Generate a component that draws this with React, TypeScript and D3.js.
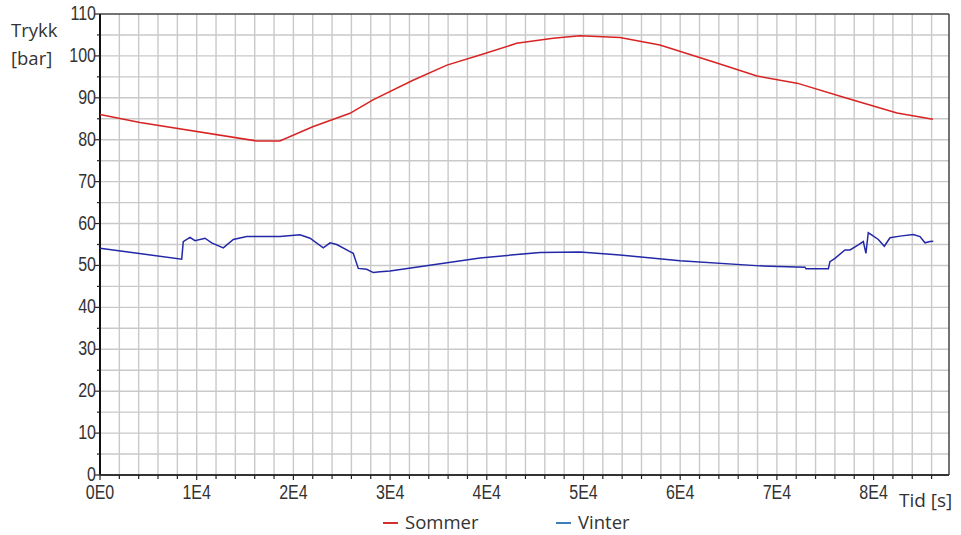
import React, { useEffect, useRef } from "react";
import * as d3 from "d3";

const sommerTime = [0, 4136, 16200, 18600, 22000, 25850, 28230, 32370, 35880, 39300, 43090, 46850, 49640, 53770, 57900, 63390, 67940, 72080, 77250, 82420, 86140];
const sommerValue = [86.0, 84.1, 79.7, 79.7, 83.1, 86.3, 89.5, 94.2, 97.8, 100.2, 103.0, 104.2, 104.8, 104.4, 102.6, 98.6, 95.2, 93.5, 89.9, 86.4, 84.9];

const vinterTime = [0, 8450, 8610, 8890, 9310, 9820, 10860, 11550, 12750, 13790, 15170, 18610, 20680, 21720, 23090, 23790, 24480, 25850, 26190, 26710, 27580, 28260, 28960, 29990, 39300, 45500, 49640, 53770, 59980, 68250, 72900, 73010, 75320, 75490, 76010, 77040, 77560, 78420, 78940, 79210, 79450, 79800, 80490, 81110, 81700, 82730, 84100, 84800, 85320, 85830, 86170];
const vinterValue = [54.1, 51.5, 55.7, 56.1, 56.7, 55.9, 56.5, 55.4, 54.2, 56.2, 56.9, 56.9, 57.3, 56.5, 54.2, 55.4, 55.0, 53.3, 52.9, 49.3, 49.1, 48.3, 48.5, 48.7, 51.8, 53.1, 53.2, 52.5, 51.1, 49.9, 49.6, 49.2, 49.2, 50.9, 51.7, 53.7, 53.7, 54.9, 55.7, 52.9, 57.8, 57.3, 56.2, 54.6, 56.6, 57.0, 57.4, 56.9, 55.4, 55.7, 55.8];

const xTickValues = [0, 10000, 20000, 30000, 40000, 50000, 60000, 70000, 80000];
const xTickLabels = ["0E0", "1E4", "2E4", "3E4", "4E4", "5E4", "6E4", "7E4", "8E4"];
const yTickValues = [0, 10, 20, 30, 40, 50, 60, 70, 80, 90, 100, 110];
const seriesNames = ["Sommer", "Vinter"];

const W = 961, H = 535;
const M = { left: 100, right: 949, top: 14, bottom: 475 };

export default function App() {
  const ref = useRef<SVGSVGElement>(null);
  useEffect(() => {
    const svg = d3.select(ref.current);
    svg.selectAll("*").remove();
    const x = d3.scaleLinear().domain([0, 87800]).range([M.left, M.right]);
    const y = d3.scaleLinear().domain([0, 110]).range([M.bottom, M.top]);

    const g = svg.append("g");
    // grid
    const xGrid = d3.range(2000, 87000, 2000);
    g.selectAll(".vg").data(xGrid).enter().append("line")
      .attr("x1", d => x(d)).attr("x2", d => x(d)).attr("y1", M.top).attr("y2", M.bottom)
      .attr("stroke", "#c9c9c9").attr("stroke-width", 1.4);
    const yGrid = d3.range(5, 110, 5);
    g.selectAll(".hg").data(yGrid).enter().append("line")
      .attr("x1", M.left).attr("x2", M.right).attr("y1", d => y(d)).attr("y2", d => y(d))
      .attr("stroke", "#c9c9c9").attr("stroke-width", 1.4);

    // border top/right
    g.append("line").attr("x1", M.left).attr("x2", M.right).attr("y1", M.top).attr("y2", M.top).attr("stroke", "#444").attr("stroke-width", 1.5);
    g.append("line").attr("x1", M.right).attr("x2", M.right).attr("y1", M.top).attr("y2", M.bottom).attr("stroke", "#444").attr("stroke-width", 1.5);

    // axes
    g.append("line").attr("x1", M.left).attr("x2", M.left).attr("y1", M.top).attr("y2", M.bottom).attr("stroke", "#111").attr("stroke-width", 2);
    g.append("line").attr("x1", M.left).attr("x2", M.right).attr("y1", M.bottom).attr("y2", M.bottom).attr("stroke", "#333").attr("stroke-width", 2);

    // ticks
    g.selectAll(".xt").data(d3.range(0, 87000, 2000)).enter().append("line")
      .attr("x1", d => x(d)).attr("x2", d => x(d)).attr("y1", M.bottom).attr("y2", d => M.bottom + (d % 10000 === 0 ? 5 : 4))
      .attr("stroke", "#222").attr("stroke-width", 1.2);
    g.selectAll(".yt").data(d3.range(0, 111, 5)).enter().append("line")
      .attr("y1", d => y(d)).attr("y2", d => y(d)).attr("x1", d => M.left - (d % 10 === 0 ? 5 : 3)).attr("x2", M.left)
      .attr("stroke", "#222").attr("stroke-width", 1.2);

    const tickFont = "'Liberation Sans', Arial, sans-serif";
    g.selectAll(".xl").data(xTickValues).enter().append("text")
      .attr("transform", d => `translate(${x(d)},${499}) scale(1,1.28)`)
      .attr("text-anchor", "middle")
      .attr("font-family", tickFont).attr("font-size", 16).attr("fill", "#333")
      .text((d, i) => xTickLabels[i]);
    g.selectAll(".yl").data(yTickValues).enter().append("text")
      .attr("transform", d => `translate(${96},${y(d) + 6}) scale(1,1.28)`)
      .attr("text-anchor", "end")
      .attr("font-family", tickFont).attr("font-size", 16).attr("fill", "#333")
      .text(d => String(d));

    const labFont = "'Open Sans', 'Noto Sans', sans-serif";
    g.append("text").attr("x", 11).attr("y", 37).attr("font-family", labFont).attr("font-size", 18.5).attr("fill", "#333").text("Trykk");
    g.append("text").attr("x", 11).attr("y", 65).attr("font-family", labFont).attr("font-size", 18.5).attr("fill", "#333").text("[bar]");
    g.append("text").attr("x", 899).attr("y", 507).attr("font-family", labFont).attr("font-size", 19).attr("fill", "#333").text("Tid [s]");

    // lines
    const line = d3.line<[number, number]>().x(d => x(d[0])).y(d => y(d[1]));
    const sData = sommerTime.map((t, i) => [t, sommerValue[i]] as [number, number]);
    const vData = vinterTime.map((t, i) => [t, vinterValue[i]] as [number, number]);
    g.append("path").attr("d", line(sData)).attr("fill", "none").attr("stroke", "#d92323").attr("stroke-width", 1.5);
    g.append("path").attr("d", line(vData)).attr("fill", "none").attr("stroke", "#2228a8").attr("stroke-width", 1.5);

    // legend
    const legendColors = ["#d32f2f", "#3a7fb8"];
    const legendX = [383, 556];
    seriesNames.forEach((name, i) => {
      g.append("line").attr("x1", legendX[i]).attr("x2", legendX[i] + 15).attr("y1", 523).attr("y2", 523)
        .attr("stroke", legendColors[i]).attr("stroke-width", 2);
      g.append("text").attr("x", legendX[i] + 22).attr("y", 529).attr("font-family", labFont).attr("font-size", 18.5).attr("fill", "#333").text(name);
    });
  }, []);
  return (
    <svg ref={ref} width={W} height={H} style={{ position: "absolute", left: 0, top: 0, background: "#fff" }} />
  );
}
